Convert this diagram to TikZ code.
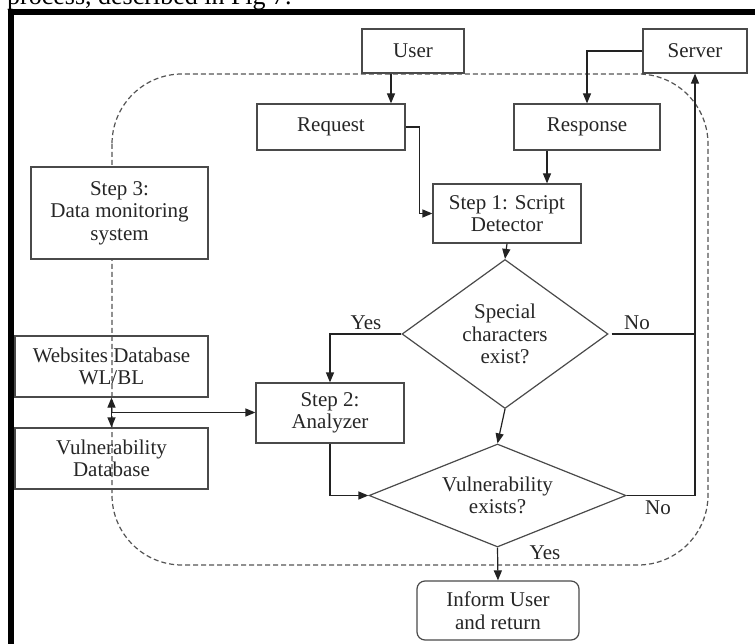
\documentclass[tikz,border=0pt]{standalone}
\usepackage{fontspec}
\setmainfont{Liberation Serif}
\usetikzlibrary{shapes.geometric,arrows.meta,calc}
\newcommand\diagfont{\fontsize{21}{22.5}\selectfont}
\definecolor{boxc}{HTML}{4A4A4A}
\definecolor{linec}{HTML}{222222}
\definecolor{txtc}{HTML}{262626}
\definecolor{dashc}{HTML}{555555}
\begin{document}
\begin{tikzpicture}[x=1pt,y=-1pt,
  box/.style={draw=boxc,line width=1.2pt,inner sep=0pt,align=center,text=txtc,font=\diagfont},
  dia/.style={diamond,draw=boxc,line width=1.2pt,inner sep=0pt,align=center,text=txtc,font=\diagfont},
  arr/.style={-{Triangle[length=10pt,width=8pt]},line width=1.2pt,draw=linec},
  plain/.style={line width=1.2pt,draw=linec},
  lbl/.style={text=txtc,font=\diagfont,inner sep=0pt}]
\clip (0,0) rectangle (755,644);
\fill[white] (0,0) rectangle (755,644);
% top caption fragment and frame
\node[anchor=base west,inner sep=0pt,font=\fontsize{26}{30}\selectfont,text=black] (cap) at (7,5) {process, described in Fig 7.};
\draw[line width=6pt,black,line join=miter] (11,650) -- (11,12) -- (760,12);
% dashed region
\draw[dashc,line width=1.2pt,dash pattern=on 5pt off 3pt,rounded corners=70pt] (112,74) rectangle (708,565);
% nodes
\node[box,minimum width=102pt,minimum height=44pt] (user) at (413,51) {User};
\node[box,minimum width=104pt,minimum height=44pt] (server) at (695,51) {Server};
\node[box,minimum width=148pt,minimum height=46pt] (req) at (331,127) {Request};
\node[box,minimum width=146pt,minimum height=46pt] (resp) at (587,127) {Response};
\node[box,minimum width=148pt,minimum height=59pt] (step1) at (507,213.5) {Step 1: Script\\Detector};
\node[box,fill=white,minimum width=177pt,minimum height=92pt] (step3) at (119.5,213) {Step 3:\\Data monitoring\\system};
\node[box,minimum width=193pt,minimum height=61pt] (webdb) at (111.5,366.5) {Websites Database\\WL/BL};
\node[box,minimum width=193pt,minimum height=61pt] (vulndb) at (111.5,458.5) {Vulnerability\\Database};
\node[box,minimum width=148pt,minimum height=60pt] (step2) at (330,413) {Step 2:\\Analyzer};
\node[dia,aspect=1.38,minimum width=206pt,minimum height=149pt] (d1) at (505,334) {Special\\characters\\exist?};
\node[dia,aspect=2.5,minimum width=257pt,minimum height=103pt] (d2) at (497.5,495.5) {Vulnerability\\exists?};
\node[box,rounded corners=8pt,minimum width=162pt,minimum height=59pt] (inform) at (498,610.5) {Inform User\\and return};
% labels
\node[lbl] (yes1) at (366,323) {Yes};
\node[lbl] (no1) at (637,323) {No};
\node[lbl] (no2) at (658,508) {No};
\node[lbl] (yes2) at (545,553) {Yes};
% connectors
\draw[arr] ([xshift=-22pt]user.south) -- ([xshift=-22pt]user.south |- req.north);
\draw[arr] (server.west) -| (resp.north);
\draw[arr] (req.east) -- ++(14,0) |- (step1.west);
\draw[arr] ([xshift=-40pt]resp.south) -- ([xshift=-40pt]resp.south |- step1.north);
\draw[arr] (step1.south) -- (d1.north);
\draw[arr] (d1.west) -| (step2.north);
\draw[plain] ([xshift=3pt]d1.east) -- (d1.east -| server.south);
\draw[arr] (d1.south) -- (d2.north);
\draw[arr] (step2.south) |- (d2.west);
\draw[arr] (d2.east) -| (server.south);
\draw[arr] (d2.south) -- (inform.north);
\coordinate (j) at ($(webdb.south)!0.5!(vulndb.north)$);
\draw[arr,{Triangle[length=10pt,width=8pt]}-{Triangle[length=10pt,width=8pt]}] (webdb.south) -- (vulndb.north);
\draw[arr] (j) -- (j -| step2.west);
\end{tikzpicture}
\end{document}
